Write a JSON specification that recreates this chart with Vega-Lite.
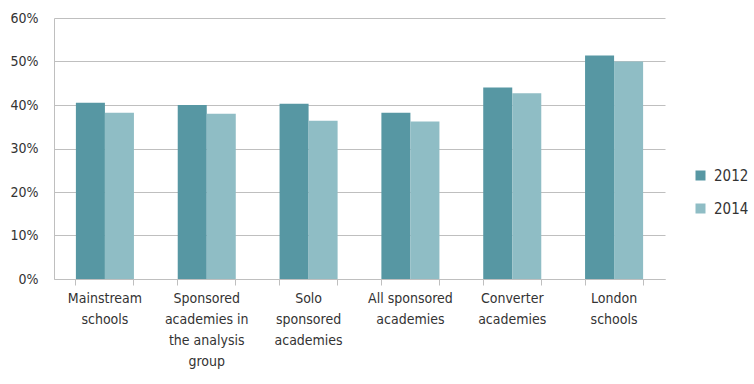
{
  "$schema": "https://vega.github.io/schema/vega-lite/v6.json",
  "width": 611,
  "height": 261,
  "autosize": {"type": "none"},
  "padding": {"left": 54, "top": 18, "right": 89, "bottom": 105},
  "background": "white",
  "config": {
    "view": {"stroke": null},
    "font": "DejaVu Sans Condensed"
  },
  "data": {
    "values": [
      {"group": "Mainstream schools", "year": "2012", "value": 0.405},
      {"group": "Mainstream schools", "year": "2014", "value": 0.382},
      {"group": "Sponsored academies in the analysis group", "year": "2012", "value": 0.400},
      {"group": "Sponsored academies in the analysis group", "year": "2014", "value": 0.380},
      {"group": "Solo sponsored academies", "year": "2012", "value": 0.403},
      {"group": "Solo sponsored academies", "year": "2014", "value": 0.364},
      {"group": "All sponsored academies", "year": "2012", "value": 0.382},
      {"group": "All sponsored academies", "year": "2014", "value": 0.362},
      {"group": "Converter academies", "year": "2012", "value": 0.440},
      {"group": "Converter academies", "year": "2014", "value": 0.427},
      {"group": "London schools", "year": "2012", "value": 0.514},
      {"group": "London schools", "year": "2014", "value": 0.500}
    ]
  },
  "resolve": {"axis": {"x": "independent"}},
  "layer": [
    {
      "mark": {"type": "bar"},
      "encoding": {
        "x": {
          "field": "group",
          "type": "nominal",
          "sort": null,
          "scale": {"paddingInner": 0.43, "paddingOuter": 0.215},
          "axis": {
            "title": null,
            "orient": "bottom",
            "labelAngle": 0,
            "labelExpr": "datum.label == 'Mainstream schools' ? ['Mainstream', 'schools'] : datum.label == 'Sponsored academies in the analysis group' ? ['Sponsored', 'academies in', 'the analysis', 'group'] : datum.label == 'Solo sponsored academies' ? ['Solo', 'sponsored', 'academies'] : datum.label == 'All sponsored academies' ? ['All sponsored', 'academies'] : datum.label == 'Converter academies' ? ['Converter', 'academies'] : ['London', 'schools']",
            "labelFontSize": 14,
            "labelLineHeight": 21,
            "labelColor": "#333333",
            "labelPadding": 6,
            "bandPosition": 0,
            "ticks": true,
            "tickSize": 6,
            "tickColor": "#BFBFBF",
            "domainColor": "#BFBFBF",
            "labelBaseline": "top"
          }
        },
        "xOffset": {"field": "year", "type": "nominal", "scale": {"paddingInner": 0, "paddingOuter": 0}},
        "y": {
          "field": "value",
          "type": "quantitative",
          "scale": {"domain": [0, 0.6]},
          "axis": {
            "title": null,
            "format": ".0%",
            "values": [0, 0.1, 0.2, 0.3, 0.4, 0.5, 0.6],
            "labelOverlap": false,
            "ticks": false,
            "labelPadding": 16,
            "labelFontSize": 14,
            "labelColor": "#333333",
            "gridColor": "#BFBFBF",
            "domainColor": "#BFBFBF"
          }
        },
        "color": {
          "field": "year",
          "type": "nominal",
          "scale": {"domain": ["2012", "2014"], "range": ["#5797A3", "#8FBDC5"]},
          "legend": {
            "title": null,
            "orient": "none",
            "legendX": 639,
            "legendY": 150,
            "symbolType": "square",
            "symbolSize": 100,
            "symbolStrokeWidth": 0,
            "labelFontSize": 15,
            "labelColor": "#333333",
            "rowPadding": 17,
            "labelOffset": 6
          }
        }
      }
    },
    {
      "mark": {"type": "rule", "opacity": 0},
      "encoding": {
        "x": {
          "field": "group",
          "type": "nominal",
          "sort": null,
          "axis": {
            "title": null,
            "orient": "bottom",
            "labels": false,
            "domain": false,
            "grid": false,
            "bandPosition": 1,
            "ticks": true,
            "tickSize": 6,
            "tickColor": "#BFBFBF"
          }
        }
      }
    }
  ]
}
